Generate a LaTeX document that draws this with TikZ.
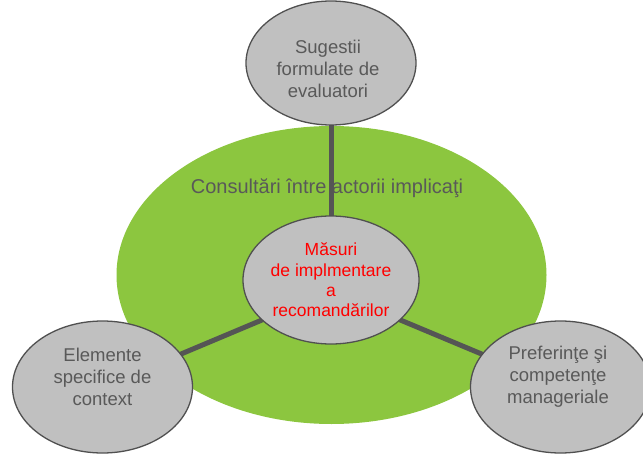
\documentclass[tikz,border=0pt]{standalone}
\usepackage{fontspec}
\setmainfont{Liberation Sans}
\usepackage{tikz}
\usetikzlibrary{shapes.geometric}
\definecolor{leafgreen}{RGB}{140,198,63}
\definecolor{ovalgray}{RGB}{192,192,192}
\definecolor{rimgray}{RGB}{80,80,80}
\definecolor{inkgray}{RGB}{89,89,89}
\definecolor{linkgray}{RGB}{85,85,85}
\pgfdeclarelayer{back}
\pgfdeclarelayer{links}
\pgfsetlayers{back,links,main}

\begin{document}
\begin{tikzpicture}[x=1pt,y=-1pt,
  oval/.style={ellipse, fill=ovalgray, draw=rimgray, line width=1.3pt, inner sep=0pt},
  ovaltext/.style={align=center, text=inkgray, font=\fontsize{18.5}{22}\selectfont, inner sep=0pt},
  link/.style={draw=linkgray, line width=5pt}]
\useasboundingbox (0,0) rectangle (643,455);
\begin{pgfonlayer}{back}
\node[ellipse, fill=leafgreen, minimum width=430pt, minimum height=298pt, inner sep=0pt] (field) at (331.5,275) {};
\node[text=inkgray, font=\fontsize{20}{24}\selectfont, inner sep=0pt, anchor=base] (fieldlabel) at (327,193) {Consultări între actorii implicaţi};
\end{pgfonlayer}
\node[oval, minimum width=170pt, minimum height=124pt] (sug) at (331,63) {};
\node[ovaltext] (sugtext) at (328,69) {Sugestii\\formulate de\\evaluatori};
\node[oval, minimum width=176pt, minimum height=128pt, align=center, text=red, font=\fontsize{17.5}{20.3}\selectfont] (mas) at (331,280) {Măsuri\\de implmentare\\a\\recomandărilor};
\node[oval, minimum width=180pt, minimum height=132pt] (ctx) at (102.5,387) {};
\node[ovaltext] (ctxtext) at (102.5,377) {Elemente\\specifice de\\context};
\node[oval, minimum width=180pt, minimum height=132pt] (pref) at (560.5,387) {};
\node[ovaltext] (preftext) at (558,377) {Preferinţe şi\\competenţe\\manageriale};
\begin{pgfonlayer}{links}
\draw[link] (sug.center) -- (mas.center);
\draw[link] ([yshift=-11pt]mas.center) -- (ctx.center);
\draw[link] ([yshift=-11pt]mas.center) -- (pref.center);
\end{pgfonlayer}
\end{tikzpicture}
\end{document}
